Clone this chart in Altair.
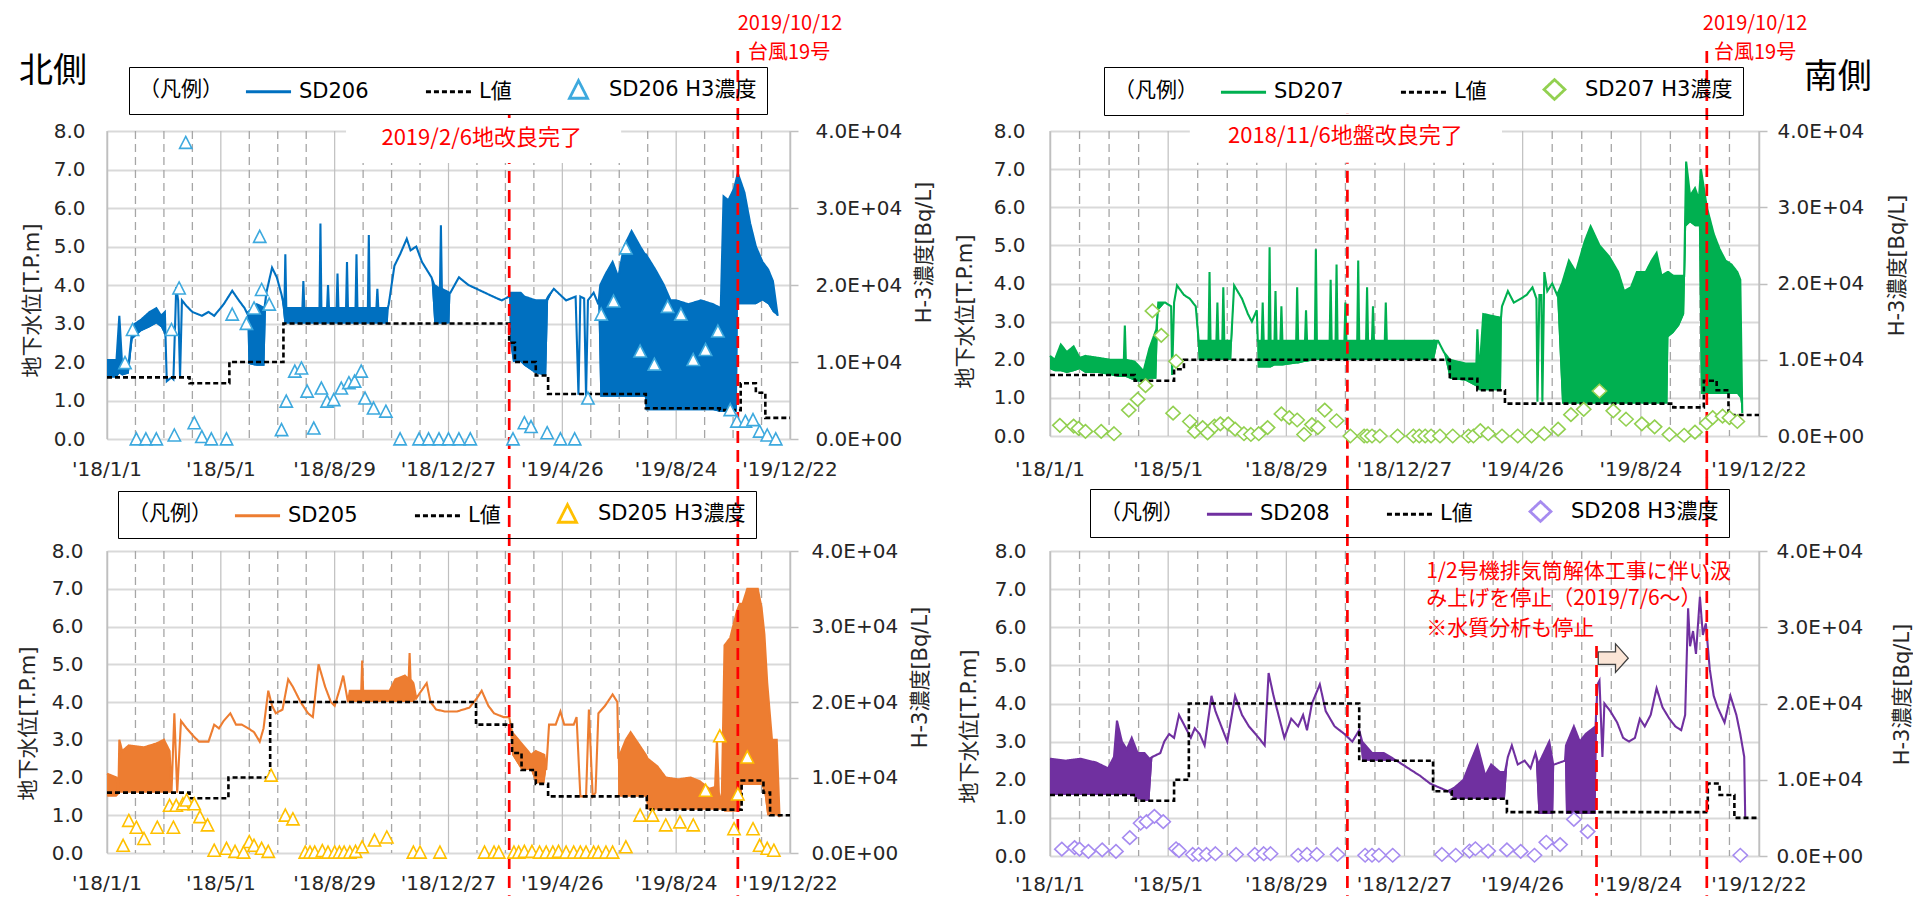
import altair as alt
import pandas as pd

# ---------------- values ----------------
# x positions are days counted from 2018-01-01, water level in T.P.m, H-3 in Bq/L
X_TICK_DAYS = [0, 120, 240, 360, 480, 600, 720]
X_TICK_LABELS = ["'18/1/1", "'18/5/1", "'18/8/29", "'18/12/27", "'19/4/26", "'19/8/24", "'19/12/22"]
MINOR_GRID_DAYS = [30, 60, 90, 150, 180, 210, 270, 300, 330, 390, 420, 450, 510, 540, 570, 630, 660, 690]
Y_LEFT_TICKS = [0, 1, 2, 3, 4, 5, 6, 7, 8]
Y_RIGHT_TICKS = [0, 10000, 20000, 30000, 40000]

# ---- SD206 (north, top-left): (day, low, high) of the water level trace
SD206_LEVEL = [(0,1.6,2.05),(10,1.6,2.05),(13,1.7,3.2),(16,1.65,1.9),(23,1.7,2.0),(27,2.6,2.95),(36,2.8,3.1),(45,2.9,3.3),(52,3.0,3.4),(57,2.9,3.2),(61,2.7,3.3),(63,1.5,1.5),(68,1.6,1.6),(70,1.55,1.55),(73,3.95,3.95),(75,3.6,3.6),(77,1.6,1.6),(79,3.6,3.6),(84,3.45,3.45),(90,3.3,3.3),(100,3.2,3.2),(107,3.3,3.3),(113,3.2,3.2),(123,3.5,3.5),(132,3.85,3.85),(139,3.6,3.6),(145,3.4,3.4),(148,3.25,3.25),(149,1.95,3.3),(158,1.9,3.5),(166,1.9,3.4),(168,3.8,3.8),(174,4.45,4.45),(179,4.2,4.2),(184,3.75,3.75),(187,3.0,3.4),(188,3.0,4.8),(189,3.0,3.4),(206,3.0,3.4),(207,3.0,4.1),(208,3.0,3.4),(224,3.0,3.4),(225,3.0,5.6),(226,3.0,3.4),(232,3.0,3.4),(233,3.0,4.0),(234,3.0,3.4),(242,3.0,3.4),(243,3.0,4.3),(244,3.0,3.4),(252,3.0,3.4),(253,3.0,4.6),(254,3.0,3.4),(262,3.0,3.4),(263,3.0,4.8),(264,3.0,3.4),(275,3.0,3.4),(276,3.0,5.3),(277,3.0,3.4),(284,3.0,3.4),(285,3.0,3.9),(286,3.0,3.4),(296,3.0,3.4),(297,3.5,3.5),(303,4.5,4.5),(309,4.8,4.8),(316,5.2,5.2),(320,4.9,4.9),(326,5.0,5.0),(332,4.6,4.6),(342,4.2,4.2),(345,3.0,4.0),(351,3.0,3.9),(352,3.0,5.55),(353,3.0,3.9),(361,3.0,3.8),(362,3.8,3.8),(371,4.2,4.2),(381,4.0,4.0),(394,3.85,3.85),(407,3.7,3.7),(416,3.6,3.6),(424,3.7,3.7),(425,2.5,3.8),(428,2.0,3.8),(436,2.0,3.8),(440,1.9,3.7),(452,1.7,3.6),(463,1.65,3.6),(465,3.6,3.7),(471,3.9,3.9),(484,3.6,3.6),(494,3.7,3.7),(497,1.15,1.15),(499,3.7,3.7),(503,3.65,3.65),(505,1.1,1.1),(507,3.6,3.6),(513,3.8,3.8),(518,3.5,3.5),(520,1.1,4.0),(526,1.1,4.3),(533,1.1,4.6),(539,1.1,4.2),(545,1.1,5.0),(553,1.1,5.4),(562,1.1,5.0),(567,1.1,4.8),(568,0.75,4.8),(578,0.75,4.4),(587,0.75,4.0),(594,0.75,3.6),(600,0.75,3.6),(613,0.75,3.5),(626,0.75,3.6),(639,0.75,3.5),(647,0.7,3.4),(650,0.7,6.3),(655,0.7,6.2),(661,0.7,6.5),(664,0.7,6.8),(665,3.5,6.9),(672,3.5,6.4),(678,3.5,5.6),(684,3.5,5.0),(691,3.6,4.6),(697,3.5,4.4),(702,3.3,4.1),(707,3.2,3.2)]
SD206_L = [(0,1.6),(87,1.45),(129,2.0),(186,3.0),(424,2.5),(430,2.0),(452,1.65),(465,1.17),(568,0.8),(646,0.75),(668,1.45),(684,1.2),(694,0.55),(720,0.55)]
SD206_H3 = [(19,9900),(27,14200),(31,0),(41,0),(52,0),(68,14200),(71,500),(76,19600),(83,38500),(92,2100),(100,300),(110,0),(126,0),(132,16200),(147,15000),(155,17000),(161,26300),(163,19400),(171,17500),(184,1200),(189,4900),(198,8800),(205,9200),(211,6200),(218,1400),(226,6600),(232,4900),(239,5100),(247,6600),(255,7300),(261,7500),(268,8800),(272,5300),(281,4000),(294,3600),(309,0),(329,0),(339,0),(350,0),(360,0),(371,0),(383,0),(428,0),(440,2100),(447,1600),(464,800),(478,0),(493,0),(507,5300),(521,16200),(534,17900),(547,24800),(562,11400),(577,9700),(591,17200),(605,16200),(618,10300),(631,11600),(644,14000),(657,3800),(664,2300),(673,2300),(681,2500),(688,1000),(696,500),(705,0)]

# ---- SD207 (south, top-right)
SD207_LEVEL = [(0,1.75,2.1),(5,1.7,2.0),(11,1.7,2.4),(17,1.65,2.2),(24,1.7,2.35),(30,1.75,2.05),(36,1.65,2.1),(49,1.65,2.05),(61,1.6,2.0),(70,1.55,2.0),(75,1.55,2.0),(76,1.55,2.9),(77,1.55,2.0),(86,1.45,1.95),(95,1.4,1.7),(101,1.5,2.3),(108,1.5,2.8),(110,3.3,3.5),(117,3.5,3.5),(123,3.4,3.4),(124,1.6,1.6),(126,3.5,3.5),(129,3.95,3.95),(136,3.7,3.7),(142,3.6,3.6),(148,3.4,3.4),(151,2.0,2.5),(161,2.0,2.5),(162,2.0,4.3),(163,2.0,2.5),(169,2.0,2.5),(170,2.0,3.5),(171,2.0,2.5),(175,2.0,2.5),(176,2.0,3.9),(177,2.0,2.5),(184,2.0,2.5),(187,3.95,3.95),(195,3.6,3.6),(201,3.2,3.2),(205,3.0,3.0),(210,3.3,3.3),(211,1.8,2.5),(215,1.8,2.5),(216,1.8,3.5),(217,1.8,2.5),(222,1.8,2.5),(223,1.8,4.95),(224,1.8,2.5),(228,1.85,2.5),(229,1.85,3.8),(230,1.85,2.5),(234,1.85,2.5),(235,1.85,3.4),(236,1.85,2.5),(250,1.9,2.5),(251,1.9,3.9),(252,1.9,2.5),(259,1.95,2.5),(260,1.95,3.3),(261,1.95,2.5),(269,2.0,2.5),(270,2.0,4.9),(271,2.0,2.5),(284,2.0,2.5),(285,2.0,4.1),(286,2.0,2.5),(290,2.0,2.5),(291,2.0,4.5),(292,2.0,2.5),(299,2.0,2.5),(300,2.0,3.5),(301,2.0,2.5),(312,2.0,2.5),(313,2.0,4.6),(314,2.0,2.5),(321,2.0,2.5),(322,2.0,3.9),(323,2.0,2.5),(327,2.0,2.5),(328,2.0,3.4),(329,2.0,2.5),(340,2.0,2.5),(341,2.0,3.5),(342,2.0,2.5),(390,2.0,2.5),(394,2.5,2.5),(400,2.2,2.2),(406,1.5,2.0),(422,1.45,1.9),(433,1.3,1.9),(434,1.3,2.8),(436,1.2,1.6),(440,1.2,3.2),(458,1.2,3.1),(459,3.4,3.4),(465,3.8,3.8),(471,3.5,3.5),(478,3.6,3.6),(484,3.7,3.7),(490,3.9,3.9),(494,3.6,3.6),(495,0.9,0.9),(497,3.7,3.7),(499,3.7,3.7),(500,0.9,0.9),(502,4.3,4.3),(505,3.8,3.8),(510,4.0,4.0),(515,3.7,3.7),(520,0.85,4.0),(527,0.85,4.6),(534,0.85,4.3),(543,0.85,5.1),(549,0.85,5.5),(558,0.85,5.0),(568,0.85,4.7),(577,0.85,4.3),(583,0.85,3.8),(590,0.85,3.9),(596,0.85,4.3),(605,0.85,4.3),(611,0.85,4.6),(616,0.85,4.8),(621,0.85,4.2),(627,0.85,4.3),(628,2.6,4.3),(633,2.7,4.2),(639,2.9,4.2),(644,3.2,4.2),(646,5.5,7.2),(650,5.6,6.3),(655,5.5,6.5),(659,5.5,6.2),(661,1.1,7.0),(667,1.1,6.0),(674,1.1,5.3),(680,1.1,4.9),(686,1.1,4.6),(692,1.1,4.5),(698,1.1,4.3),(701,1.0,4.1),(703,0.6,0.6)]
SD207_L = [(0,1.6),(86,1.45),(126,1.75),(136,2.0),(406,1.5),(434,1.2),(462,0.85),(633,0.75),(664,1.45),(677,1.2),(689,0.55),(720,0.55)]
SD207_H3 = [(10,1400),(24,1300),(29,1000),(36,600),(52,600),(65,300),(80,3400),(89,4800),(97,6600),(104,16400),(113,13200),(125,3000),(128,9800),(142,1900),(147,600),(155,1100),(160,400),(167,1300),(173,1600),(181,1600),(188,900),(197,300),(204,200),(212,300),(221,1100),(235,2900),(243,2400),(251,2100),(258,200),(266,1500),(272,1100),(279,3400),(291,2000),(305,0),(319,0),(322,0),(327,0),(335,0),(353,0),(369,0),(375,0),(381,0),(387,0),(396,0),(409,0),(425,0),(430,0),(437,700),(445,300),(459,0),(475,0),(489,0),(502,300),(516,900),(529,2800),(542,3500),(558,5900),(572,3300),(585,2200),(601,1600),(614,1200),(629,200),(644,100),(655,500),(667,1700),(673,2400),(683,2600),(690,2400),(698,1900)]

# ---- SD205 (north, bottom-left)
SD205_LEVEL = [(0,1.5,2.1),(10,1.5,2.0),(12,1.55,1.6),(13,1.6,3.0),(16,1.6,2.7),(23,1.6,2.85),(39,1.6,2.8),(52,1.6,2.9),(60,1.6,3.0),(66,1.6,2.7),(68,1.6,1.6),(71,3.7,3.7),(74,1.6,1.6),(78,3.5,3.5),(84,3.3,3.3),(91,3.1,3.1),(97,2.95,2.95),(107,2.95,2.95),(113,3.4,3.4),(118,3.3,3.3),(123,3.5,3.5),(130,3.7,3.7),(136,3.4,3.4),(142,3.4,3.4),(149,3.3,3.3),(155,3.2,3.2),(161,2.95,2.95),(165,3.3,3.3),(170,4.3,4.3),(174,3.9,3.9),(178,3.7,3.7),(185,3.8,3.8),(191,4.6,4.6),(196,4.4,4.4),(204,4.0,4.0),(212,3.7,3.7),(217,3.6,3.6),(223,5.0,5.0),(230,4.4,4.4),(236,4.0,4.0),(240,3.9,3.9),(246,4.4,4.4),(249,4.7,4.7),(254,4.0,4.0),(256,4.0,4.3),(268,4.0,4.3),(269,4.0,5.1),(270,4.0,4.3),(298,4.0,4.3),(304,4.0,4.6),(314,4.0,4.7),(318,4.0,4.6),(319,4.0,5.3),(320,4.0,4.6),(323,4.0,4.5),(326,4.1,4.1),(337,4.5,4.5),(341,4.0,4.0),(347,3.8,3.8),(356,3.75,3.75),(369,3.75,3.75),(382,3.85,3.85),(390,4.1,4.1),(395,4.3,4.3),(402,3.9,3.9),(408,3.7,3.7),(418,3.6,3.6),(424,3.6,3.6),(427,2.6,3.2),(437,2.2,2.9),(447,2.2,2.6),(452,1.85,2.7),(461,1.85,2.6),(463,2.2,2.2),(466,3.4,3.4),(473,3.4,3.4),(478,3.75,3.75),(482,3.4,3.4),(492,3.4,3.4),(495,3.6,3.6),(499,1.5,1.5),(505,1.5,1.5),(508,3.8,3.8),(512,1.5,1.5),(515,1.6,1.6),(518,3.7,3.7),(525,3.9,3.9),(533,4.2,4.2),(538,4.0,4.0),(539,1.5,2.5),(547,1.5,3.0),(552,1.5,3.2),(560,1.5,2.9),(568,1.5,2.6),(570,1.15,2.5),(580,1.15,2.3),(589,1.15,2.0),(602,1.15,1.95),(615,1.15,2.0),(625,1.15,1.9),(635,1.15,1.7),(641,1.15,1.75),(643,1.15,3.0),(645,1.15,1.6),(648,1.15,1.3),(651,1.1,5.5),(657,1.1,5.7),(664,1.1,6.4),(667,1.1,6.6),(670,1.8,6.6),(675,1.8,7.0),(686,1.8,7.0),(690,1.8,6.5),(693,1.6,5.8),(696,1.0,4.5),(701,1.0,3.0),(706,1.0,3.0),(709,0.95,0.95)]
SD205_L = [(0,1.6),(87,1.45),(128,2.0),(172,4.0),(389,3.4),(427,2.65),(437,2.2),(452,1.83),(465,1.5),(569,1.15),(669,1.92),(692,1.6),(699,1.0),(720,1.0)]
SD205_H3 = [(17,1000),(23,4300),(31,3400),(39,1900),(53,3400),(66,6300),(70,3400),(73,6300),(80,6500),(84,7000),(92,6500),(98,4800),(106,3700),(113,350),(126,600),(135,200),(144,100),(150,1500),(155,1000),(163,600),(170,200),(173,10300),(188,5000),(196,4500),(209,100),(214,100),(219,100),(227,300),(233,100),(240,100),(245,100),(250,100),(256,100),(262,200),(269,800),(282,1700),(295,2100),(323,100),(330,100),(351,100),(398,100),(408,100),(413,100),(429,100),(434,100),(440,200),(448,200),(456,100),(463,100),(470,100),(476,200),(484,100),(492,100),(499,100),(505,100),(513,100),(518,100),(526,100),(533,100),(547,800),(562,5000),(575,5000),(589,3700),(604,4100),(618,3700),(631,8300),(646,15500),(661,3200),(665,7800),(675,12700),(681,3200),(688,1000),(696,600),(703,350)]

# ---- SD208 (south, bottom-right)
SD208_LEVEL = [(0,1.6,2.55),(16,1.6,2.5),(31,1.6,2.55),(47,1.6,2.45),(59,1.6,2.3),(65,1.6,2.6),(68,1.6,3.55),(73,1.6,3.0),(78,1.6,2.8),(83,1.6,3.1),(89,1.5,2.7),(96,1.45,2.7),(101,1.45,2.55),(104,2.6,2.6),(112,2.7,2.7),(116,3.0,3.0),(121,3.2,3.2),(126,3.1,3.1),(131,3.7,3.7),(137,3.4,3.4),(143,3.1,3.1),(147,3.35,3.35),(152,3.2,3.2),(157,2.9,2.9),(164,4.2,4.2),(168,3.8,3.8),(174,3.4,3.4),(180,3.0,3.0),(188,4.2,4.2),(195,3.7,3.7),(202,3.4,3.4),(212,3.1,3.1),(218,2.9,2.9),(222,4.8,4.8),(227,4.2,4.2),(233,3.6,3.6),(238,3.1,3.1),(245,3.6,3.6),(252,3.4,3.4),(257,3.7,3.7),(261,3.3,3.3),(266,4.0,4.0),(274,4.5,4.5),(280,3.8,3.8),(289,3.4,3.4),(299,3.2,3.2),(307,3.0,3.0),(314,3.3,3.3),(317,2.5,3.0),(327,2.5,2.7),(339,2.5,2.7),(352,2.5,2.5),(364,2.3,2.3),(376,2.1,2.1),(386,1.9,1.9),(395,1.8,1.8),(404,1.7,1.7),(411,1.5,1.8),(420,1.5,2.0),(426,1.5,2.4),(434,1.5,2.9),(442,1.5,2.1),(448,1.5,2.4),(457,1.5,2.2),(462,1.5,2.2),(465,2.6,2.6),(469,2.9,2.9),(475,2.4,2.4),(482,2.5,2.5),(488,2.3,2.3),(493,2.7,2.7),(496,1.1,2.4),(507,1.1,3.0),(511,1.1,2.4),(512,2.4,2.4),(523,2.5,2.5),(524,1.1,2.9),(532,1.1,3.4),(538,1.1,3.0),(544,1.1,3.2),(554,1.1,3.4),(556,4.5,4.5),(558,4.6,4.6),(561,2.6,2.6),(563,4.0,4.0),(569,3.8,3.8),(576,3.5,3.5),(582,3.1,3.1),(588,3.0,3.0),(594,3.1,3.1),(599,3.6,3.6),(604,3.4,3.4),(610,3.7,3.7),(616,4.4,4.4),(622,3.9,3.9),(629,3.6,3.6),(635,3.4,3.4),(641,3.3,3.3),(645,3.7,3.7),(648,6.5,6.5),(650,5.5,5.5),(653,5.9,5.9),(656,5.3,5.3),(660,6.8,6.8),(663,5.8,5.8),(666,6.1,6.1),(670,4.9,4.9),(674,4.2,4.2),(678,3.9,3.9),(685,3.5,3.5),(691,4.2,4.2),(697,3.7,3.7),(701,3.2,3.2),(705,2.6,2.6),(706,1.0,1.0)]
SD208_L = [(0,1.6),(87,1.45),(126,2.0),(141,4.0),(314,2.5),(389,1.7),(408,1.5),(464,1.15),(668,1.9),(680,1.6),(695,1.0),(720,1.0)]
SD208_H3 = [(12,900),(25,1100),(30,900),(39,600),(53,800),(67,600),(81,2400),(92,4300),(98,4500),(106,5200),(115,4500),(128,950),(131,700),(145,200),(151,200),(159,200),(168,300),(189,200),(208,200),(217,300),(224,300),(252,100),(261,200),(271,200),(292,200),(320,100),(327,100),(334,100),(348,100),(398,200),(412,100),(426,650),(432,950),(445,650),(464,800),(478,600),(492,100),(504,1800),(518,1500),(532,4800),(546,3200),(701,100)]

# ---- annotations: (day, level, text, font size)
TL_TEXTS = [(395, 7.82, "2019/2/6地改良完了", 22), (720, 10.78, "2019/10/12", 20), (719, 10.03, "台風19号", 20)]
TR_TEXTS = [(300, 7.87, "2018/11/6地盤改良完了", 22), (716, 10.81, "2019/10/12", 20), (716, 10.05, "台風19号", 20)]
TL_BOX = [(252, 542, 7.17, 8.34)]
TR_BOX = [(142, 459, 7.17, 8.45)]
TL_SIDE = [(-57, 9.53, "北側")]
TR_SIDE = [(800, 9.39, "南側")]
# red dashed event lines: (day, top level, bottom level)
TL_RULES = [(424, 8.44, -0.99), (665, 10.08, -0.99)]
TR_RULES = [(302, 8.45, -1.08), (667, 10.1, -1.08)]
BL_RULES = [(424, 9.96, -1.13), (665, 9.96, -1.13)]
BR_RULES = [(302, 9.94, -1.04), (555, 5.51, -1.04), (667, 9.94, -1.04)]
BR_NOTES = [(382, 7.46, "1/2号機排気筒解体工事に伴い汲"), (382, 6.75, "み上げを停止（2019/7/6～）"), (382, 5.95, "※水質分析も停止")]
BR_ARROW = [(572, 5.19)]

# ---------------- chart construction ----------------
T0 = int(pd.Timestamp("2018-01-01", tz="UTC").timestamp() * 1000)
DAY = 86_400_000
FONT = "DejaVu Sans, Noto Sans CJK JP"
JP = "Noto Sans CJK JP"
TXT = "#262626"
RED = "#FF0000"
GRID = "#BFBFBF"

LEGEND_LINE = "M-2.05,0L2.05,0"
TRIANGLE = "M0,-0.82L0.82,0.78L-0.82,0.78Z"
DIAMOND = "M0,-0.9L0.95,0L0,0.9L-0.95,0Z"
ARROW = "M-1,-0.42L0.15,-0.42L0.15,-0.95L1,0L0.15,0.95L0.15,0.42L-1,0.42Z"


def ts(d):
    return T0 + d * DAY


LABEL_EXPR_R = "datum.value == 0 ? '0.0E+00' : format(datum.value / 10000, '.1f') + 'E+04'"


def build(p):
    name = p["name"]
    names = [name, "L値", name + " H3濃度"]
    cscale = alt.Scale(domain=names, range=[p["color"], "#000000", p["mcolor"]])
    sscale = alt.Scale(domain=names, range=[LEGEND_LINE, LEGEND_LINE, p["marker"]])
    dscale = alt.Scale(domain=names, range=[[1, 0], [5, 3], [1, 0]])
    legend = alt.Legend(
        title="（凡例）", orient="none", legendX=p["legend"][0], legendY=p["legend"][1],
        direction="horizontal", titleOrient="left", titleFont=FONT, titleFontSize=21,
        titleFontWeight="normal", titleColor="#000000", titlePadding=33,
        labelFont=FONT, labelFontSize=21, labelColor="#000000", labelOffset=18, labelLimit=400,
        columnPadding=51, padding=10, strokeColor="#000000",
        symbolSize=484, symbolStrokeWidth=2.8)
    xs = alt.Scale(type="utc", domain=[ts(0), ts(720)], nice=False)

    def ys():
        return alt.Scale(domain=[0, 8], nice=False)

    x_axis = alt.Axis(labels=False, grid=False, ticks=False, domain=True, domainColor=GRID,
                      domainWidth=1.5, title=None)
    y_axis = alt.Axis(values=Y_LEFT_TICKS, format=".1f", grid=True, gridColor="#D9D9D9", gridWidth=1.8,
                      domain=True, domainColor=GRID, domainWidth=1.5, ticks=False,
                      labelPadding=p["ylp"], labelFontSize=20, labelFont=FONT, labelColor=TXT,
                      titleFontSize=21, titleFont=FONT, titleFontWeight="normal", titleColor=TXT,
                      titleAngle=270, titleAlign="center", titleBaseline="middle",
                      titleX=p["ltitle"][0], titleY=p["ltitle"][1])
    r_axis = alt.Axis(orient="right", values=Y_RIGHT_TICKS, labelExpr=LABEL_EXPR_R, grid=False,
                      domain=True, domainColor=GRID, domainWidth=1.5, ticks=True, tickColor=GRID,
                      tickSize=8, tickWidth=1.5, labelPadding=p["rlp"],
                      labelFontSize=20, labelFont=FONT, labelColor=TXT, titleFontSize=21, titleFont=FONT,
                      titleFontWeight="normal", titleColor=TXT, titleAngle=270, titleAlign="center",
                      titleBaseline="middle", titleX=p["rtitle"][0], titleY=p["rtitle"][1])

    def X():
        return alt.X("t:T", scale=xs, axis=None, title=None)

    def Y(field):
        return alt.Y(field, scale=ys(), axis=None, title=None)

    level = pd.DataFrame(p["level"], columns=["d", "lo", "hi"])
    level["t"] = level["d"].map(ts)
    level["series"] = name
    lval = pd.DataFrame(p["L"], columns=["d", "v"])
    lval["t"] = lval["d"].map(ts)
    lval["series"] = "L値"
    h3 = pd.DataFrame(p["h3"], columns=["d", "v"])
    h3["t"] = h3["d"].map(ts)
    h3["series"] = name + " H3濃度"
    minor = pd.DataFrame({"t": [ts(d) for d in MINOR_GRID_DAYS]})
    major = pd.DataFrame({"t": [ts(d) for d in X_TICK_DAYS],
                          "label": X_TICK_LABELS, "v": p["xlab_v"]})

    color = alt.Color("series:N", scale=cscale, legend=legend)
    dash = alt.StrokeDash("series:N", scale=dscale, legend=legend)
    shape = alt.Shape("series:N", scale=sscale, legend=legend)

    layers = [
        alt.Chart(level).mark_area(color=p["color"], opacity=1).encode(
            x=alt.X("t:T", scale=xs, axis=x_axis, title=None),
            y=alt.Y("lo:Q", scale=ys(), axis=y_axis, title="地下水位[T.P.m]"), y2="hi:Q"),
        alt.Chart(major).mark_rule(color=GRID, strokeWidth=1.2).encode(x=X()),
        alt.Chart(minor).mark_rule(color="#A6A6A6", strokeDash=[8, 5], strokeWidth=1.3).encode(x=X()),
        alt.Chart(major).mark_text(font=FONT, fontSize=20, color=TXT, baseline="middle").encode(
            x=X(), y=Y("v:Q"), text="label:N"),
        alt.Chart(level).mark_area(color=p["color"], opacity=1).encode(x=X(), y=Y("lo:Q"), y2="hi:Q"),
        alt.Chart(level).mark_line(strokeWidth=2.1).encode(
            x=X(), y=Y("hi:Q"), color=color, strokeDash=dash),
        alt.Chart(lval).mark_line(interpolate="step-after", strokeWidth=2.6).encode(
            x=X(), y=Y("v:Q"), color=color, strokeDash=dash),
    ]
    rules = pd.DataFrame(p["rules"], columns=["d", "top", "bot"])
    rules["t"] = rules["d"].map(ts)
    layers.append(alt.Chart(rules).mark_rule(color=RED, strokeDash=[12, 7], strokeWidth=2.7).encode(
        x=X(), y=Y("top:Q"), y2="bot:Q"))
    if p.get("box"):
        box = pd.DataFrame(p["box"], columns=["d1", "d2", "v1", "v2"])
        box["t1"] = box["d1"].map(ts)
        box["t2"] = box["d2"].map(ts)
        layers.append(alt.Chart(box).mark_rect(color="white", opacity=1).encode(
            x=alt.X("t1:T", scale=xs, axis=None, title=None), x2="t2:T", y=Y("v1:Q"), y2="v2:Q"))
    if p.get("texts"):
        tx = pd.DataFrame(p["texts"], columns=["d", "v", "label", "fs"])
        tx["t"] = tx["d"].map(ts)
        layers.append(alt.Chart(tx).mark_text(color=RED, font=JP).encode(
            x=X(), y=Y("v:Q"), text="label:N", size=alt.Size("fs:Q", scale=None, legend=None)))
    if p.get("side"):
        sd = pd.DataFrame(p["side"], columns=["d", "v", "label"])
        sd["t"] = sd["d"].map(ts)
        layers.append(alt.Chart(sd).mark_text(color="#000000", font=JP, fontSize=34).encode(
            x=X(), y=Y("v:Q"), text="label:N"))
    if p.get("notes"):
        nt = pd.DataFrame(p["notes"], columns=["d", "v", "label"])
        nt["t"] = nt["d"].map(ts)
        layers.append(alt.Chart(nt).mark_text(color=RED, font=JP, fontSize=21, align="left").encode(
            x=X(), y=Y("v:Q"), text="label:N"))
    if p.get("arrow"):
        ar = pd.DataFrame(p["arrow"], columns=["d", "v"])
        ar["t"] = ar["d"].map(ts)
        layers.append(alt.Chart(ar).mark_point(shape=ARROW, filled=True, fill="#FBE5D6", stroke="#404040",
                                               strokeWidth=1.3, size=900, opacity=1).encode(
            x=X(), y=Y("v:Q")))

    layers.append(alt.Chart(h3).mark_point(filled=False, fill="white", fillOpacity=1, strokeWidth=1.6,
                                           size=225, opacity=1).encode(
        x=X(),
        y=alt.Y("v:Q", scale=alt.Scale(domain=[0, 40000], nice=False), axis=r_axis, title="H-3濃度[Bq/L]"),
        color=color, shape=shape))
    return alt.layer(*layers).resolve_scale(y="independent").properties(width=p["w"], height=p["h"])


panels = [
    dict(name="SD206", color="#0070C0", mcolor="#3DA9DE", marker=TRIANGLE, level=SD206_LEVEL, L=SD206_L,
         h3=SD206_H3, w=683, h=308, legend=(22, -64), xlab_v=-0.81, ylp=22, rlp=17,
         ltitle=(-75, 169), rtitle=(134, 121), rules=TL_RULES, box=TL_BOX, texts=TL_TEXTS, side=TL_SIDE),
    dict(name="SD207", color="#00B050", mcolor="#92D050", marker=DIAMOND, level=SD207_LEVEL, L=SD207_L,
         h3=SD207_H3, w=709, h=305, legend=(54, -64), xlab_v=-0.89, ylp=25, rlp=10,
         ltitle=(-85, 180), rtitle=(138, 134), rules=TR_RULES, box=TR_BOX, texts=TR_TEXTS, side=TR_SIDE),
    dict(name="SD205", color="#ED7D31", mcolor="#FFC000", marker=TRIANGLE, level=SD205_LEVEL, L=SD205_L,
         h3=SD205_H3, w=683, h=302, legend=(11, -60), xlab_v=-0.82, ylp=24, rlp=13,
         ltitle=(-79, 172), rtitle=(130, 126), rules=BL_RULES),
    dict(name="SD208", color="#7030A0", mcolor="#A68BF0", marker=DIAMOND, level=SD208_LEVEL, L=SD208_L,
         h3=SD208_H3, w=709, h=305, legend=(40, -62), xlab_v=-0.77, ylp=24, rlp=9,
         ltitle=(-81, 175), rtitle=(143, 143), rules=BR_RULES, notes=BR_NOTES, arrow=BR_ARROW),
]

charts = [build(p) for p in panels]

chart = alt.concat(*charts, columns=2, spacing={"row": 112, "column": 260}, bounds="flush").resolve_scale(
    color="independent", shape="independent", strokeDash="independent"
).properties(
    padding={"left": 8, "top": 5, "right": 0, "bottom": 0}, background="white"
).configure_view(stroke=None).configure(font=FONT)

chart.save("out.html", embed_options={"renderer": "svg", "actions": False})
